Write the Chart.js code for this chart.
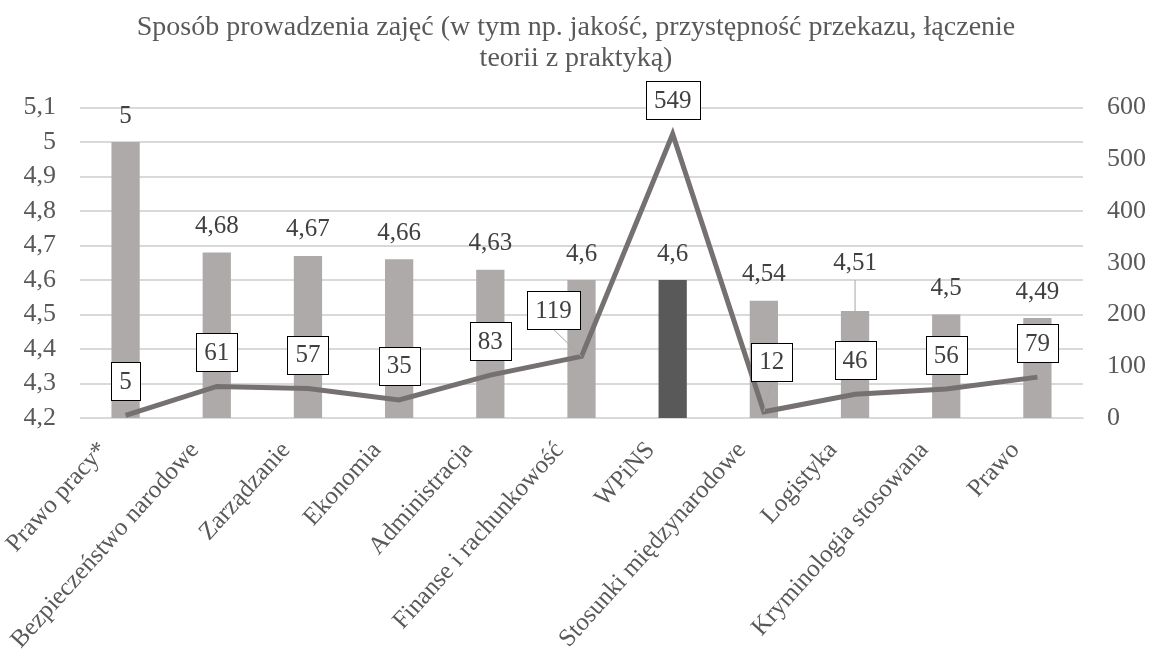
<!DOCTYPE html>
<html lang="pl">
<head>
<meta charset="utf-8">
<script src="https://cdn.jsdelivr.net/npm/chart.js@4.4.1/dist/chart.umd.min.js"></script>
<style>
  html, body { margin: 0; padding: 0; background: #fff; }
  #wrap { width: 1152px; height: 650px; }
</style>
</head>
<body>
<div id="wrap"><canvas id="chart" width="1152" height="650"></canvas></div>
<script>
const categories = [
  'Prawo pracy*', 'Bezpieczeństwo narodowe', 'Zarządzanie', 'Ekonomia', 'Administracja',
  'Finanse i rachunkowość', 'WPiNS', 'Stosunki międzynarodowe', 'Logistyka',
  'Kryminologia stosowana', 'Prawo'
];
const scores = [5, 4.68, 4.67, 4.66, 4.63, 4.6, 4.6, 4.54, 4.51, 4.5, 4.49];
const respondents = [5, 61, 57, 35, 83, 119, 549, 12, 46, 56, 79];
const highlight = 'WPiNS';

const serif = '"Liberation Serif", "Times New Roman", serif';
const textGray = '#595959';

// where the original moved a label away from its default spot
const barLabelShift = { 8: -22 };
const lineLabelShift = { 5: [-28, -12], 7: [8, -16] };

const fmt = v => String(Math.round(v * 100) / 100).replace('.', ',');

const valueLabels = {
  id: 'valueLabels',
  afterDatasetsDraw(chart) {
    const ctx = chart.ctx;
    ctx.save();
    ctx.font = '25px ' + serif;
    ctx.textAlign = 'center';
    ctx.textBaseline = 'middle';

    chart.getDatasetMeta(0).data.forEach((bar, i) => {
      const dy = barLabelShift[i] || 0;
      const y = bar.y - 26 + dy;
      if (dy) {
        ctx.strokeStyle = '#A6A6A6';
        ctx.lineWidth = 1;
        ctx.beginPath();
        ctx.moveTo(bar.x, y + 17);
        ctx.lineTo(bar.x, bar.y);
        ctx.stroke();
      }
      ctx.fillStyle = '#404040';
      ctx.fillText(fmt(scores[i]), bar.x, y);
    });

    chart.getDatasetMeta(1).data.forEach((pt, i) => {
      const shift = lineLabelShift[i] || [0, 0];
      const txt = String(respondents[i]);
      const w = Math.round(ctx.measureText(txt).width) + 16;
      const h = 38;
      const cx = pt.x + shift[0];
      const cy = pt.y - 34 + shift[1];
      if (shift[0] || shift[1]) {
        ctx.strokeStyle = '#A6A6A6';
        ctx.lineWidth = 1;
        ctx.beginPath();
        ctx.moveTo(cx, cy + h / 2);
        ctx.lineTo(pt.x, pt.y);
        ctx.stroke();
      }
      const x0 = Math.round(cx - w / 2) + 0.5;
      const y0 = Math.round(cy - h / 2) + 0.5;
      ctx.fillStyle = '#fff';
      ctx.fillRect(x0, y0, w, h);
      ctx.strokeStyle = '#000';
      ctx.lineWidth = 1;
      ctx.strokeRect(x0, y0, w, h);
      ctx.fillStyle = '#404040';
      ctx.fillText(txt, cx, cy + 1);
    });
    ctx.restore();
  }
};

const whiteBg = {
  id: 'whiteBg',
  beforeDraw(chart) {
    const ctx = chart.ctx;
    ctx.save();
    ctx.fillStyle = '#fff';
    ctx.fillRect(0, 0, chart.width, chart.height);
    ctx.restore();
  }
};

new Chart(document.getElementById('chart'), {
  data: {
    labels: categories,
    datasets: [
      {
        type: 'bar',
        label: 'Średnia ocena',
        data: scores,
        yAxisID: 'y',
        order: 2,
        backgroundColor: categories.map(c => c === highlight ? '#595959' : '#AEAAAA'),
        barPercentage: 0.31,
        categoryPercentage: 1
      },
      {
        type: 'line',
        label: 'Liczba odpowiedzi',
        data: respondents,
        yAxisID: 'y1',
        order: 1,
        borderColor: '#767171',
        borderWidth: 5,
        pointRadius: 0,
        tension: 0,
        fill: false
      }
    ]
  },
  options: {
    responsive: false,
    animation: false,
    layout: { padding: 0 },
    plugins: {
      legend: { display: false },
      tooltip: { enabled: false },
      title: {
        display: true,
        text: ['Sposób prowadzenia zajęć (w tym np. jakość, przystępność przekazu, łączenie', 'teorii z praktyką)'],
        color: textGray,
        font: { family: serif, size: 28, weight: 'normal', lineHeight: 1.1 },
        padding: { top: 12, bottom: 34 }
      }
    },
    scales: {
      x: {
        grid: { display: false },
        border: { display: true, color: '#D9D9D9' },
        ticks: {
          color: textGray,
          font: { family: serif, size: 25 },
          minRotation: 48,
          maxRotation: 48,
          padding: 10,
          labelOffset: -22,
          autoSkip: false
        },
        afterFit(scale) { scale.height = 232; }
      },
      y: {
        position: 'left',
        min: 4.2,
        max: 5.1,
        border: { display: false },
        grid: { color: '#D9D9D9', lineWidth: 2, drawTicks: false },
        ticks: {
          stepSize: 0.1,
          color: textGray,
          padding: 24,
          font: { family: serif, size: 26 },
          callback: v => fmt(Math.round(v * 10) / 10)
        },
        afterFit(scale) { scale.width = 80; }
      },
      y1: {
        position: 'right',
        min: 0,
        max: 600,
        border: { display: false },
        grid: { display: false, drawTicks: false },
        ticks: {
          stepSize: 100,
          color: textGray,
          padding: 24,
          font: { family: serif, size: 26 }
        },
        afterFit(scale) { scale.width = 69; }
      }
    }
  },
  plugins: [whiteBg, valueLabels]
});
</script>
</body>
</html>
